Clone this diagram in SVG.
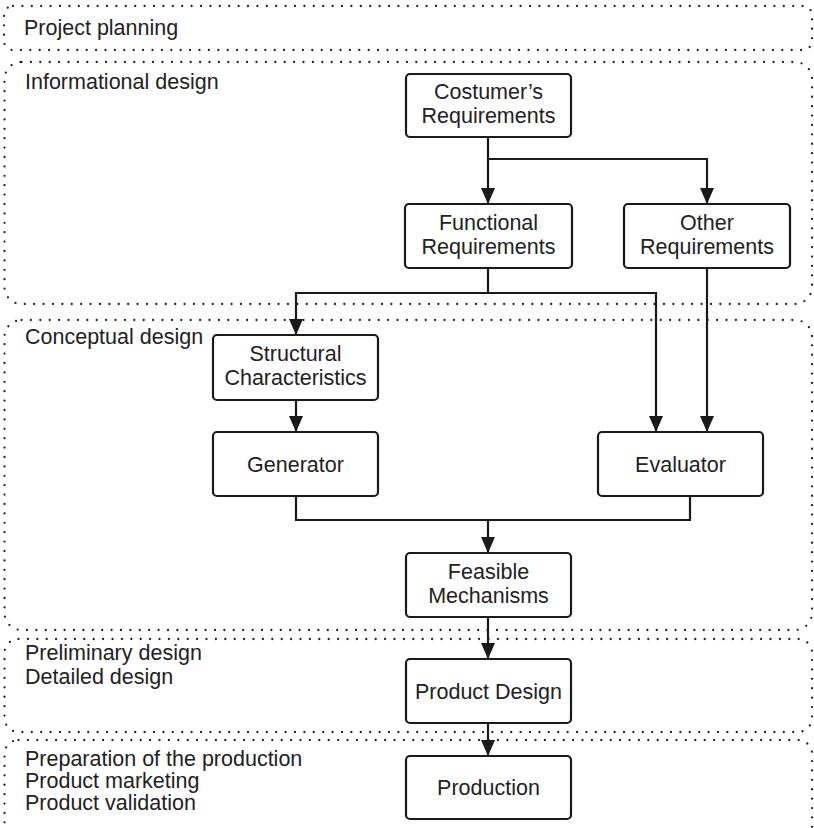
<svg xmlns="http://www.w3.org/2000/svg" width="814" height="828" viewBox="0 0 814 828">
<defs>
<marker id="arr" markerUnits="userSpaceOnUse" markerWidth="18" markerHeight="16" refX="16" refY="7.5" orient="auto">
<path d="M0,0.5 L16,7.5 L0,14.5 z" fill="#1a1a1a"/>
</marker>
<style>
.phase{fill:none;stroke:#222;stroke-width:2.3;stroke-dasharray:0 9.4;stroke-linecap:round}
.box{fill:#fff;stroke:#1a1a1a;stroke-width:2.2}
.lbl{font-family:"Liberation Sans",Arial,sans-serif;font-size:21.5px;fill:#222}
.c{text-anchor:middle}
.con{fill:none;stroke:#1a1a1a;stroke-width:2.2}
</style>
</defs>
<rect width="814" height="828" fill="#fff"/>
<g id="phases">
<g id="phase-planning"><rect class="phase" x="4" y="6" width="808" height="44" rx="9"/><text class="lbl" x="24" y="35">Project planning</text></g>
<g id="phase-informational"><rect class="phase" x="4.5" y="62" width="807.5" height="242" rx="17"/><text class="lbl" x="25" y="89">Informational design</text></g>
<g id="phase-conceptual"><rect class="phase" x="4.5" y="320" width="807.5" height="310" rx="17"/><text class="lbl" x="25" y="344">Conceptual design</text></g>
<g id="phase-preliminary"><rect class="phase" x="4.5" y="639" width="807.5" height="93" rx="14"/><text class="lbl" x="25" y="660">Preliminary design</text><text class="lbl" x="25" y="684">Detailed design</text></g>
<g id="phase-production"><rect class="phase" x="4.5" y="740" width="807.5" height="110" rx="14"/><text class="lbl" x="25" y="766">Preparation of the production</text><text class="lbl" x="25" y="788">Product marketing</text><text class="lbl" x="25" y="810">Product validation</text></g>
</g>
<g id="connectors">
<path class="con" d="M488,137 V204" marker-end="url(#arr)"/>
<path class="con" d="M488,159 H707 V204" marker-end="url(#arr)"/>
<path class="con" d="M488,268 V293"/>
<path class="con" d="M488,293 H296 V335" marker-end="url(#arr)"/>
<path class="con" d="M488,293 H656 V432" marker-end="url(#arr)"/>
<path class="con" d="M707,268 V432" marker-end="url(#arr)"/>
<path class="con" d="M296,400 V432" marker-end="url(#arr)"/>
<path class="con" d="M296,496 V520 H690 V496"/>
<path class="con" d="M488,520 V553" marker-end="url(#arr)"/>
<path class="con" d="M488,617 V659" marker-end="url(#arr)"/>
<path class="con" d="M488,723 V756" marker-end="url(#arr)"/>
</g>
<g id="costumer"><rect class="box" x="406" y="74" width="165" height="63" rx="4"/><text class="lbl c" x="488.5" y="99">Costumer’s</text><text class="lbl c" x="488.5" y="123">Requirements</text></g>
<g id="functional"><rect class="box" x="405" y="204" width="167" height="64" rx="4"/><text class="lbl c" x="488.5" y="229.5">Functional</text><text class="lbl c" x="488.5" y="253.5">Requirements</text></g>
<g id="other"><rect class="box" x="624" y="204" width="166" height="64" rx="4"/><text class="lbl c" x="707" y="229.5">Other</text><text class="lbl c" x="707" y="253.5">Requirements</text></g>
<g id="structural"><rect class="box" x="213" y="335" width="165" height="65" rx="4"/><text class="lbl c" x="295.5" y="361">Structural</text><text class="lbl c" x="295.5" y="385">Characteristics</text></g>
<g id="generator"><rect class="box" x="213" y="432" width="165" height="64" rx="4"/><text class="lbl c" x="295.5" y="472">Generator</text></g>
<g id="evaluator"><rect class="box" x="598" y="432" width="165" height="64" rx="4"/><text class="lbl c" x="680.5" y="472">Evaluator</text></g>
<g id="feasible"><rect class="box" x="406" y="553" width="165" height="64" rx="4"/><text class="lbl c" x="488.5" y="578.5">Feasible</text><text class="lbl c" x="488.5" y="602.5">Mechanisms</text></g>
<g id="product-design"><rect class="box" x="406" y="659" width="165" height="64" rx="4"/><text class="lbl c" x="488.5" y="699">Product Design</text></g>
<g id="production"><rect class="box" x="406" y="756" width="165" height="63" rx="4"/><text class="lbl c" x="488.5" y="795">Production</text></g>
</svg>
